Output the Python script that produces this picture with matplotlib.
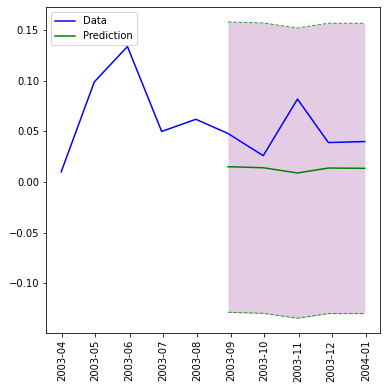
import matplotlib
matplotlib.use("Agg")
import matplotlib.pyplot as plt
import matplotlib.dates as mdates
import pandas as pd

data_dates = pd.to_datetime(["2003-03-31", "2003-04-30", "2003-05-30", "2003-06-30", "2003-07-31",
                             "2003-08-29", "2003-09-30", "2003-10-31", "2003-11-28", "2003-12-31"])
data_values = [0.010, 0.099, 0.134, 0.050, 0.062, 0.048, 0.026, 0.082, 0.039, 0.040]

pred_dates = data_dates[5:]
pred_values = [0.0151, 0.0141, 0.0089, 0.0138, 0.0135]
upper_values = [0.1583, 0.1573, 0.1523, 0.1570, 0.1570]
lower_values = [-0.1289, -0.1299, -0.1348, -0.1302, -0.1302]

fig = plt.figure(figsize=(386 / 72, 389 / 72), dpi=72)
ax = fig.add_axes([46 / 386, 1 - 333 / 389, (380 - 46) / 386, (333 - 7) / 389])

ax.plot(data_dates, data_values, color="blue", label="Data")
ax.plot(pred_dates, pred_values, color="green", label="Prediction")
ax.fill_between(pred_dates, lower_values, upper_values, color="purple", alpha=0.2, linewidth=0)
ax.plot(pred_dates, upper_values, color="green", ls="--", lw=1, alpha=0.8)
ax.plot(pred_dates, lower_values, color="green", ls="--", lw=1, alpha=0.8)

ax.set_ylim(-0.1494, 0.1731)
ax.xaxis.set_major_locator(mdates.MonthLocator())
ax.xaxis.set_major_formatter(mdates.DateFormatter("%Y-%m"))
plt.setp(ax.get_xticklabels(), rotation=90)
ax.legend(loc="upper left")

fig.savefig("out.png", dpi=72)
